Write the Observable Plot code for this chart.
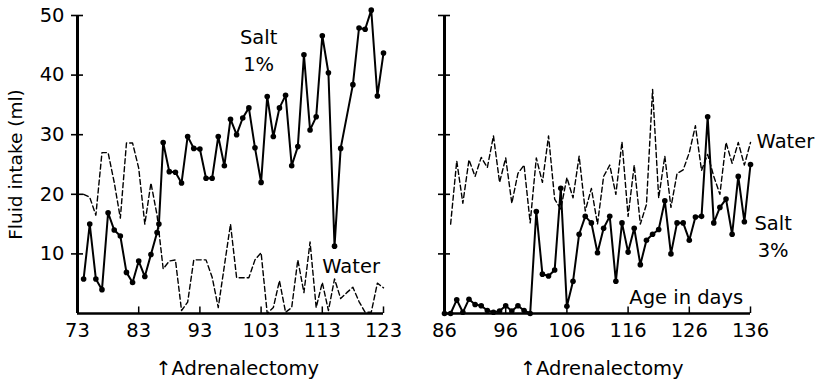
<!DOCTYPE html>
<html><head><meta charset="utf-8">
<script src="https://cdn.jsdelivr.net/npm/d3@7"></script>
<script src="https://cdn.jsdelivr.net/npm/@observablehq/plot@0.6"></script>
<style>
body{margin:0;background:#fff;}
#wrap{position:relative;width:825px;height:381px;background:#fff;}
#wrap svg{position:absolute;top:0;}
</style></head><body><div id="wrap"></div>
<script>
// ---- Left panel (Salt 1%) ----
const leftSaltDays   = [74,75,76,77,78,79,80,81,82,83,84,85,86,86.3,87,88,89,90,91,92,93,94,95,96,97,98,99,100,101,102,103,104,105,106,107,108,109,110,111,112,113,114,115,116,118,119,120,121,122,123];
const leftSaltValues = [5.8,15,5.8,4,16.9,14,13,6.9,5.2,8.8,6.2,9.9,13.6,15,28.7,23.8,23.7,21.9,29.7,27.7,27.6,22.7,22.7,29.7,24.8,32.6,30,32.8,34.5,27.8,22,36.4,29.7,34.5,36.6,24.8,28,43.4,30.8,33,46.6,40.4,11.3,27.7,38.4,47.9,47.7,50.9,36.5,43.7];
const leftWaterDays   = [74,75,76,77,78,79,80,81,82,83,84,85,86,87,88,89,90,91,92,93,94,95,96,98,99,100,101,102,103,104,105,106,107,108,109,110,111,112,113,114,115,116,117,118,119,120,121,122,123];
const leftWaterValues = [20,19.5,16.5,27,27,22,16,28.6,28.6,24.4,15,21.9,16.5,7.5,8.8,9,0.5,1.9,9,9,9,6.1,1,15,6,6,6,9,10.2,0,1,5.5,0.2,1,9,3.5,12,1,5.2,0.5,5.8,2.5,3.5,4.4,2,0.2,0.2,5.1,4.3];
// ---- Right panel (Salt 3%) ----
const rightSaltDays   = [86,87,88,89,90,91,92,93,94,95,96,97,98,99,100,101,102,103,104,105,106,107,108,109,110,111,112,113,114,115,116,117,118,119,120,121,122,123,124,125,126,127,128,129,130,131,132,133,134,135,136];
const rightSaltValues = [0,0,2.3,0.2,2.4,1.5,1.3,0.5,0.2,0.4,1.3,0.4,1.3,0.5,0,17.1,6.6,6.3,7.3,21,1.2,5.4,13.3,16.3,15.2,10.2,14.3,16.3,5.4,15.2,10.3,14.3,8.2,12.3,13.3,14.1,18.9,10,15.2,15.2,12.3,16.2,16.3,33,15.2,17.8,19.2,13.3,23,15.4,25];
const rightWaterDays   = [87,88,89,90,91,92,93,94,95,96,97,98,99,100,101,102,103,104,105,106,107,108,109,110,111,112,113,114,115,116,117,118,119,120,121,122,123,124,125,126,127,128,129,130,131,132,133,134,135,136];
const rightWaterValues = [15,25.6,18.5,25.8,23,26.2,24.5,29.8,22,26.1,18.5,23.5,24.9,15.2,26.1,22,29.8,19.2,17.5,22.8,19.4,26.4,17.2,21,15,23,24.9,20,28.8,16.3,24.9,15,18.3,37.6,19.4,26.4,17.8,23.5,24.1,27,31.5,24,26.7,23,20,28.7,25.2,28.7,24.9,28.7];
// ---- Axes / labels ----
const leftTicks = [73,83,93,103,113,123];
const rightTicks = [86,96,106,116,126,136];
const yTicks = [10,20,30,40,50];
const yLabel = "Fluid intake (ml)";
const leftNotes = [
  {x: 102.6, y: 44.4, t: "Salt\n1%", anchor: "middle"},
  {x: 113.0, y: 8.2, t: "Water", anchor: "start"},
  {x: 85.7, y: -8.9, t: "\u2191Adrenalectomy", anchor: "start"}
];
const rightNotes = [
  {x: 137.0, y: 29.2, t: "Water", anchor: "start"},
  {x: 139.7, y: 13.2, t: "Salt\n3%", anchor: "middle"},
  {x: 116.2, y: 3.0, t: "Age in days", anchor: "start"},
  {x: 98.3, y: -8.9, t: "\u2191Adrenalectomy", anchor: "start"}
];

const FONT = "'DejaVu Sans', sans-serif";
const FS = 19.5;

function toRows(days, vals) { return days.map((d, i) => ({day: d, v: vals[i]})); }

function noteMarks(notes) {
  return ["start", "middle", "end"].map(a =>
    Plot.text(notes.filter(d => d.anchor === a), {x: "x", y: "y", text: "t", textAnchor: a, lineHeight: 1.4, fontSize: FS, fill: "black"}));
}

function panel({width, marginLeft, marginRight, domain, ticks, salt, water, showY, notes}) {
  return Plot.plot({
    width, height: 381, marginLeft, marginRight, marginTop: 15, marginBottom: 68,
    x: {domain},
    y: {domain: [0, 50]},
    style: {fontFamily: FONT, fontSize: FS + "px", color: "black", background: "white", overflow: "visible"},
    marks: [
      Plot.axisX(ticks, {tickSize: 0, tickPadding: 10, tickFormat: d => String(d), fontSize: FS}),
      Plot.ruleX(ticks, {y1: 0, y2: 1.1, strokeWidth: 1.5}),
      Plot.axisY(yTicks, {anchor: "left", text: null, tickSize: 12, dx: 6, strokeWidth: 1.6}),
      showY ? Plot.axisY(yTicks, {anchor: "left", tickSize: 0, tickPadding: 13, fontSize: FS}) : null,
      showY ? Plot.text([yLabel], {frameAnchor: "left", textAnchor: "middle", rotate: -90, dx: -61, fontSize: 18.5}) : null,
      Plot.ruleX([domain[0]], {y1: 0, y2: 50, strokeWidth: 3}),
      Plot.ruleY([0], {x1: domain[0], x2: domain[1], strokeWidth: 2.5}),
      Plot.line(water, {x: "day", y: "v", stroke: "black", strokeWidth: 1.4, strokeDasharray: "5,3"}),
      Plot.line(salt, {x: "day", y: "v", stroke: "black", strokeWidth: 2}),
      Plot.dot(salt, {x: "day", y: "v", r: 2.8, fill: "black"}),
      ...noteMarks(notes)
    ]
  });
}

const wrap = document.getElementById("wrap");
const left = panel({width: 410, marginLeft: 77, marginRight: 27, domain: [73, 123], ticks: leftTicks,
  salt: toRows(leftSaltDays, leftSaltValues), water: toRows(leftWaterDays, leftWaterValues), showY: true, notes: leftNotes});
left.style.left = "0px";
const right = panel({width: 415, marginLeft: 34, marginRight: 75, domain: [86, 136], ticks: rightTicks,
  salt: toRows(rightSaltDays, rightSaltValues), water: toRows(rightWaterDays, rightWaterValues), showY: false, notes: rightNotes});
right.style.left = "410px";
wrap.appendChild(left);
wrap.appendChild(right);
</script>
</body></html>
